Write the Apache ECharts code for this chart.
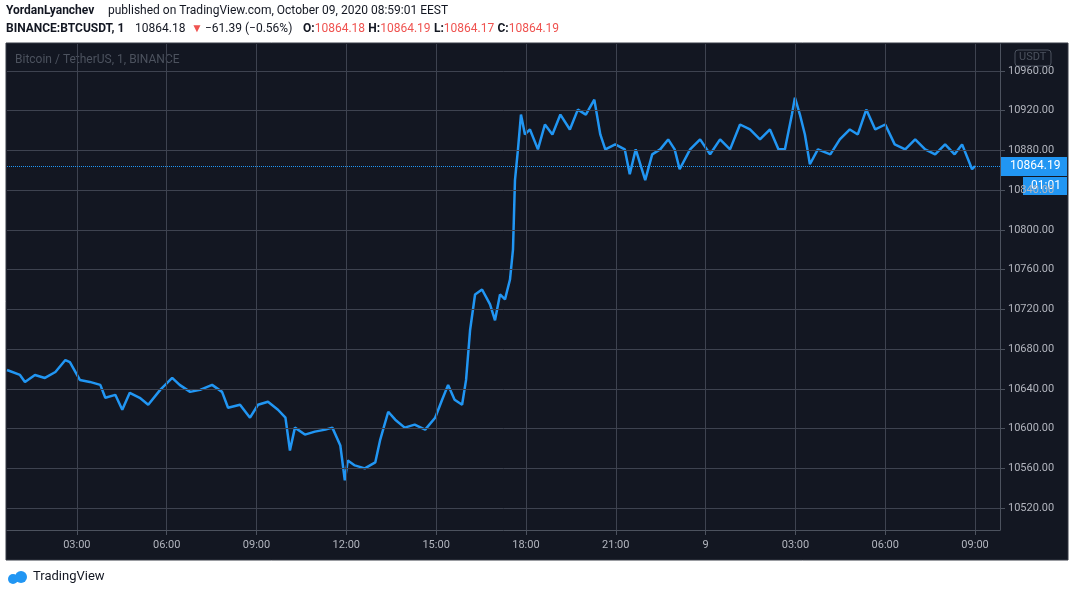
<!DOCTYPE html>
<html>
<head>
<meta charset="utf-8">
<script src="https://cdn.jsdelivr.net/npm/echarts@6/dist/echarts.min.js"></script>
<style>
  body { margin: 0; background: #fff; }
  #chart1 { width: 1073px; height: 596px; }
</style>
</head>
<body>
<div id="chart1"></div>
<script>
// minutes since 00:00 on Oct 8
const minutes = [40, 66, 76, 96, 116, 137, 157, 166, 186, 206, 227, 237, 257, 271, 286, 306, 323, 347, 371, 386,
  407, 427, 451, 471, 483, 507, 527, 543, 563, 583, 598, 607, 617, 637, 657, 678, 692, 708, 717, 723,
  737, 757, 778, 788, 804, 818, 837, 857, 878, 898, 912, 924, 937, 952, 960, 968, 978, 992, 1008, 1018,
  1028, 1038, 1048, 1054, 1058, 1064, 1070, 1078, 1088, 1104, 1118, 1133, 1149, 1168, 1184, 1200, 1217, 1229, 1239, 1259,
  1278, 1288, 1300, 1319, 1333, 1349, 1365, 1378, 1388, 1409, 1429, 1449, 1469, 1489, 1509, 1529, 1549, 1569, 1586, 1599,
  1613, 1619, 1629, 1639, 1649, 1665, 1690, 1709, 1729, 1745, 1762, 1780, 1800, 1819, 1840, 1860, 1880, 1900, 1920, 1939,
  1954, 1966, 1974, 1980];
const prices = [10659, 10654, 10647, 10654, 10651, 10657, 10669, 10667, 10649, 10647, 10644, 10631, 10634, 10619, 10636, 10631, 10624, 10639, 10651, 10644,
  10637, 10639, 10644, 10637, 10621, 10624, 10611, 10624, 10627, 10619, 10611, 10578, 10601, 10594, 10597, 10599, 10601, 10583, 10548, 10568,
  10563, 10560, 10566, 10589, 10617, 10609, 10601, 10604, 10599, 10611, 10629, 10644, 10629, 10624, 10649, 10699, 10735, 10740, 10725, 10709,
  10735, 10730, 10750, 10780, 10850, 10881, 10916, 10896, 10901, 10881, 10906, 10896, 10916, 10901, 10921, 10916, 10931, 10896, 10881, 10886,
  10881, 10856, 10881, 10850, 10876, 10881, 10891, 10881, 10861, 10881, 10891, 10876, 10891, 10881, 10906, 10901, 10891, 10901, 10881, 10881,
  10916, 10933, 10916, 10896, 10866, 10881, 10876, 10891, 10901, 10896, 10921, 10901, 10906, 10886, 10881, 10891, 10881, 10876, 10886, 10876,
  10886, 10871, 10861, 10864.19];
const timeTicks = [180, 360, 540, 720, 900, 1080, 1260, 1440, 1620, 1800, 1980];
const priceTicks = [10520, 10560, 10600, 10640, 10680, 10720, 10760, 10800, 10840, 10880, 10920, 10960];
const lastPrice = 10864.19;

const fmtTime = (v) => {
  if (v === 1440) return "9";
  const m = v % 1440;
  const h = Math.floor(m / 60);
  return String(h).padStart(2, "0") + ":" + String(m % 60).padStart(2, "0");
};

const getOption = () => ({
  backgroundColor: "#fff",
  animation: false,
  textStyle: { fontFamily: "Roboto, 'DejaVu Sans', sans-serif" },
  graphic: [
    { type: "rect", shape: { x: 6, y: 43, width: 1062, height: 517 }, style: { fill: "#131722", stroke: "#363a45" }, z: -10 },
    { type: "text", left: 6, top: 5, style: { text: "YordanLyanchev", font: "bold 12px Roboto", fill: "#131722" } },
    { type: "text", left: 108, top: 5, style: { text: "published on TradingView.com, October 09, 2020 08:59:01 EEST", font: "12px Roboto", fill: "#131722" } },
    { type: "text", left: 6, top: 23, style: { text: "BINANCE:BTCUSDT, 1", font: "bold 12px Roboto", fill: "#131722" } },
    { type: "text", left: 135, top: 23, style: { text: "10864.18", font: "12px Roboto", fill: "#131722" } },
    { type: "text", left: 191, top: 23, style: { text: "▼", font: "12px Roboto", fill: "#ef5350" } },
    { type: "text", left: 205, top: 23, style: { text: "−61.39 (−0.56%)", font: "12px Roboto", fill: "#131722" } },
    { type: "text", left: 303, top: 23, style: { rich: {
        k: { font: "bold 12px Roboto", fill: "#131722" }, v: { font: "12px Roboto", fill: "#ef5350" } },
        text: "{k|O:}{v|10864.18} {k|H:}{v|10864.19} {k|L:}{v|10864.17} {k|C:}{v|10864.19}" } },
    { type: "text", left: 15, top: 54, style: { text: "Bitcoin / TetherUS, 1, BINANCE", font: "12px Roboto", fill: "#4c525e" } },
    { type: "rect", shape: { x: 1015, y: 50, width: 36, height: 16, r: 3 }, style: { fill: "none", stroke: "#4c525e" } },
    { type: "text", left: 1019, top: 52, style: { text: "USDT", font: "11px Roboto", fill: "#4c525e" } },
    { type: "rect", shape: { x: 1001, y: 157, width: 66, height: 19 }, style: { fill: "#2196f3" } },
    { type: "text", left: 1010, top: 160, style: { text: "10864.19", font: "12px Roboto", fill: "#fff" } },
    { type: "rect", shape: { x: 1023, y: 177, width: 44, height: 18 }, style: { fill: "#2196f3" } },
    { type: "text", left: 1031, top: 180, style: { text: "01:01", font: "12px Roboto", fill: "#fff" } },
    { type: "circle", shape: { cx: 13, cy: 579, r: 5 }, style: { fill: "#2196f3" } },
    { type: "circle", shape: { cx: 21, cy: 577, r: 6 }, style: { fill: "#2196f3" } },
    { type: "text", left: 33, top: 570, style: { text: "TradingView", font: "13px Roboto", fill: "#131722" } }
  ],
  grid: { left: 7, right: 73, top: 44, bottom: 66 },
  xAxis: {
    type: "value", min: 40, max: 2030,
    axisLine: { show: true, onZero: false, lineStyle: { color: "#4c525e" } },
    axisTick: { show: true, customValues: timeTicks, lineStyle: { color: "#4c525e" } },
    axisLabel: { customValues: timeTicks, formatter: fmtTime, color: "#b2b5be", fontSize: 11, margin: 10 },
    splitLine: { show: false }
  },
  yAxis: {
    type: "value", position: "right", min: 10498, max: 10987,
    axisLine: { show: true, lineStyle: { color: "#4c525e" } },
    axisTick: { show: true, customValues: priceTicks, lineStyle: { color: "#4c525e" } },
    axisLabel: { customValues: priceTicks, formatter: (v) => v.toFixed(2), color: "#b2b5be", fontSize: 11, margin: 8 },
    splitLine: { show: false }
  },
  series: [
    {
      type: "line", silent: true, data: [], markLine: {
        symbol: "none", silent: true, label: { show: false },
        lineStyle: { color: "#3e4350", type: "solid", width: 1 },
        data: timeTicks.map((t) => ({ xAxis: t })).concat(priceTicks.map((p) => ({ yAxis: p })))
      }
    },
    {
      type: "line", showSymbol: false,
      data: minutes.map((m, i) => [m, prices[i]]),
      lineStyle: { color: "#2196f3", width: 2.5 },
      markLine: {
        symbol: "none", silent: true, label: { show: false },
        lineStyle: { color: "#2196f3", type: "dotted", width: 1 },
        data: [{ yAxis: lastPrice }]
      }
    }
  ]
});

window.addEventListener("load", () => {
  const chart1 = echarts.init(document.getElementById("chart1"));
  chart1.setOption(getOption());
});
</script>
</body>
</html>
